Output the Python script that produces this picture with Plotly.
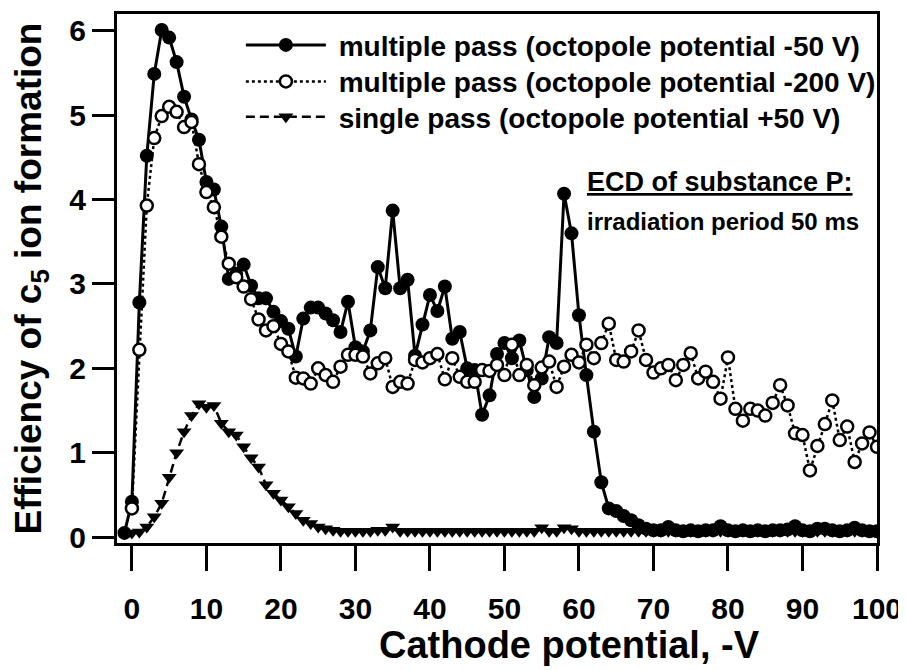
import plotly.graph_objects as go

# ---- data ----
x_filled = list(range(-1, 101))
y_filled = [0.05, 0.42, 2.78, 4.52, 5.49, 6.01, 5.92, 5.63, 5.22, 4.95, 4.71,
            4.21, 4.12, 3.68, 3.06, 3.12, 3.23, 2.98, 2.83, 2.83, 2.67,
            2.56, 2.47, 2.14, 2.59, 2.72, 2.72, 2.65, 2.57, 2.43, 2.79,
            2.25, 2.20, 2.45, 3.20, 2.95, 3.87, 2.95, 3.05, 2.15, 2.52,
            2.87, 2.68, 2.97, 2.35, 2.43, 2.00, 1.98, 1.45, 1.68, 2.17,
            2.30, 2.12, 2.33, 1.98, 1.66, 1.88, 2.37, 2.30, 4.07, 3.60,
            2.63, 1.92, 1.25, 0.65, 0.34, 0.31, 0.25, 0.20, 0.14, 0.10,
            0.08, 0.08, 0.12, 0.08, 0.07, 0.08, 0.07, 0.08, 0.08, 0.13,
            0.08, 0.07, 0.08, 0.07, 0.08, 0.07, 0.08, 0.08, 0.09, 0.13,
            0.08, 0.07, 0.10, 0.10, 0.08, 0.07, 0.08, 0.11, 0.08, 0.07, 0.07]

x_open = list(range(0, 101))
y_open = [0.34, 2.22, 3.93, 4.73, 4.99, 5.10, 5.04, 4.86, 4.92, 4.42,
          4.09, 3.91, 3.56, 3.24, 3.08, 2.97, 2.82, 2.58, 2.45, 2.50,
          2.29, 2.20, 1.89, 1.88, 1.82, 2.00, 1.92, 1.84, 2.02, 2.16,
          2.16, 2.14, 1.94, 2.06, 2.12, 1.78, 1.84, 1.82, 2.10, 2.07,
          2.12, 2.17, 1.87, 2.12, 1.90, 1.84, 1.84, 1.98, 1.97, 2.04,
          1.92, 2.28, 1.92, 2.04, 1.80, 2.01, 2.08, 1.78, 2.02, 2.16,
          2.07, 2.28, 2.12, 2.30, 2.53, 2.10, 2.08, 2.20, 2.45, 2.10,
          1.95, 2.00, 2.04, 1.86, 2.04, 2.18, 1.88, 1.96, 1.84, 1.64,
          2.13, 1.52, 1.38, 1.52, 1.50, 1.44, 1.59, 1.80, 1.56, 1.23,
          1.21, 0.79, 1.08, 1.34, 1.62, 1.15, 1.31, 0.89, 1.11, 1.24, 1.07]

x_single = list(range(-1, 101))
y_single = [0.04, 0.05, 0.06, 0.12, 0.24, 0.40, 0.71, 1.00, 1.25, 1.44, 1.58,
            1.54, 1.56, 1.35, 1.25, 1.21, 1.07, 0.94, 0.83, 0.62, 0.52,
            0.44, 0.36, 0.28, 0.20, 0.16, 0.12, 0.10, 0.08, 0.07, 0.07,
            0.07, 0.07, 0.07, 0.08, 0.08, 0.12, 0.07, 0.07, 0.07, 0.07,
            0.07, 0.07, 0.07, 0.07, 0.07, 0.07, 0.07, 0.07, 0.07, 0.07,
            0.07, 0.07, 0.07, 0.07, 0.07, 0.11, 0.07, 0.07, 0.11, 0.10,
            0.07, 0.07, 0.07, 0.07, 0.07, 0.07, 0.07, 0.07, 0.07, 0.07,
            0.07, 0.07, 0.07, 0.07, 0.07, 0.07, 0.07, 0.07, 0.07, 0.07,
            0.07, 0.07, 0.07, 0.07, 0.07, 0.07, 0.07, 0.07, 0.07, 0.07,
            0.07, 0.07, 0.07, 0.07, 0.07, 0.07, 0.07, 0.07, 0.07, 0.07, 0.07]

x_ticks = [0, 10, 20, 30, 40, 50, 60, 70, 80, 90, 100]
y_ticks = [0, 1, 2, 3, 4, 5, 6]

name_filled = "multiple pass (octopole potential -50 V)"
name_open = "multiple pass (octopole potential -200 V)"
name_single = "single pass (octopole potential +50 V)"
x_title = "Cathode potential, -V"
y_title = "Efficiency of c<sub>5</sub> ion formation"

FONT = "Liberation Sans, Arial, sans-serif"
PAD = "\u00a0"

fig = go.Figure()

fig.add_trace(go.Scatter(
    x=x_single, y=y_single, name=PAD + name_single, mode="lines+markers",
    line=dict(color="black", width=2.5, dash="9px,5px"),
    marker=dict(symbol="triangle-down", size=13, color="black"),
    legend="legend3"))

fig.add_trace(go.Scatter(
    x=x_filled, y=y_filled, name=PAD + name_filled, mode="lines+markers",
    line=dict(color="black", width=3),
    marker=dict(symbol="circle", size=14, color="black"),
    legend="legend"))

fig.add_trace(go.Scatter(
    x=x_open, y=y_open, name=PAD + name_open, mode="lines+markers",
    line=dict(color="black", width=2.5, dash="dot"),
    marker=dict(symbol="circle", size=12, color="white",
                line=dict(color="black", width=2.5)),
    legend="legend2"))


def leg(y):
    return dict(x=0.163, y=y, xanchor="left", yanchor="middle",
                bgcolor="rgba(0,0,0,0)", itemwidth=80,
                font=dict(family=FONT, size=28, weight="bold"))


# page body has an 8px margin: the figure is sized to fit the 906x670 window
fig.update_layout(
    width=898, height=662,
    paper_bgcolor="white", plot_bgcolor="white",
    margin=dict(l=109, r=29, t=6, b=127, autoexpand=False),
    font=dict(family=FONT, color="black", size=26, weight="bold"),
    showlegend=True,
    legend=leg(0.941),
    legend2=leg(0.872),
    legend3=leg(0.805),
    xaxis=dict(range=[-2, 100], tickvals=x_ticks, ticks="outside",
               ticklen=25, tickwidth=2.5, tickcolor="black",
               showline=True, linewidth=3, linecolor="black", mirror=True,
               showgrid=False, zeroline=False, automargin=False,
               ticklabelstandoff=12,
               tickfont=dict(family=FONT, size=30, weight="bold")),
    yaxis=dict(range=[-0.07, 6.2], tickvals=y_ticks, ticks="outside",
               ticklen=22, tickwidth=2.5, tickcolor="black",
               showline=True, linewidth=3, linecolor="black", mirror=True,
               showgrid=False, zeroline=False, automargin=False,
               tickfont=dict(family=FONT, size=30, weight="bold"),
               title=dict(text=y_title, standoff=18,
                          font=dict(family=FONT, size=37, weight="bold"))),
)

# x-axis title sits right of centre in the reference
fig.add_annotation(x=0.595, y=-0.193, xref="paper", yref="paper",
                   xanchor="center", yanchor="middle", showarrow=False,
                   text=x_title,
                   font=dict(family=FONT, size=38, weight="bold"))

fig.add_annotation(x=0.616, y=0.682, xref="paper", yref="paper",
                   xanchor="left", yanchor="middle", showarrow=False,
                   text="<u>ECD of substance P:</u>",
                   font=dict(family=FONT, size=27, weight="bold"))
fig.add_annotation(x=0.616, y=0.607, xref="paper", yref="paper",
                   xanchor="left", yanchor="middle", showarrow=False,
                   text="irradiation period 50 ms",
                   font=dict(family=FONT, size=24, weight="bold"))

fig.write_html("out.html")
